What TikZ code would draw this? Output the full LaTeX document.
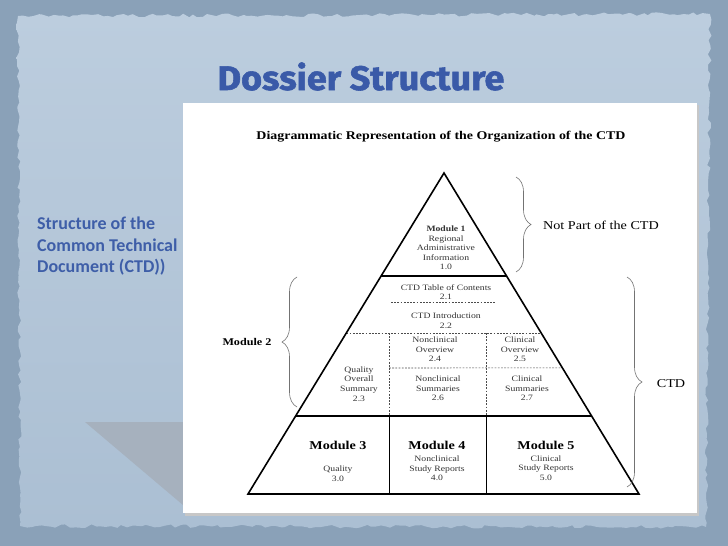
\documentclass[tikz,border=0pt]{standalone}
\usepackage{fontspec}
\setmainfont{Liberation Serif}[FakeStretch=1.18]
\newfontfamily\sidefont{Carlito}
\newfontfamily\titlefont{Fira Sans}[FakeStretch=1.06,FakeBold=1.6]
\usepackage{xcolor}
\usetikzlibrary{calc, positioning}
\usetikzlibrary{decorations.pathreplacing, decorations.pathmorphing}

\definecolor{slateout}{HTML}{8AA1B8}
\definecolor{slatein}{HTML}{BCCDDE}
\definecolor{slatelow}{HTML}{ABBFD3}
\definecolor{slidetext}{HTML}{3E5EA8}
\definecolor{titleblue}{HTML}{3A5AA8}
\definecolor{shadowgray}{HTML}{A6B1BE}

\begin{document}
\begin{tikzpicture}[x=1pt,y=-1pt,
  txt/.style={font=\fontsize{8.2}{9.6}\selectfont,align=center,inner sep=0pt,text=black!80},
  modhead/.style={font=\bfseries\fontsize{12}{14}\selectfont,inner sep=0pt},
  curly/.style={draw=black!55,line width=0.6pt,decorate,decoration={brace,amplitude=15pt}},
  dashsep/.style={line width=0.6pt,dash pattern=on 1.8pt off 1.4pt,draw=black!70}]
\useasboundingbox (0,0) rectangle (728,546);
\pgfmathsetseed{7}
\fill[slateout] (0,0) rectangle (728,546);
\path[top color=slatein,bottom color=slatelow,decorate,
  decoration={random steps,segment length=5pt,amplitude=1.8pt}]
  (18,16) -- (710,14) -- (706,527) -- (20,526) -- cycle;
\fill[shadowgray] (85,422) -- (183,422) -- (183,505) -- cycle;
\fill[black!22] (185,105) rectangle (699,516);
\fill[white] (183,103) rectangle (697,513);

\coordinate (apex) at (444,173);
\coordinate (bl) at (248,494);
\coordinate (br) at (639,494);
\coordinate (m1l) at ($(apex)!0.321!(bl)$);
\coordinate (m1r) at ($(apex)!0.321!(br)$);
\coordinate (m2l) at ($(apex)!0.757!(bl)$);
\coordinate (m2r) at ($(apex)!0.757!(br)$);
\coordinate (dal) at ($(apex)!0.498!(bl)$);
\coordinate (dar) at ($(apex)!0.498!(br)$);
\coordinate (dbr) at ($(apex)!0.607!(br)$);

\draw[dashsep] (391,302) -- (496,302);
\draw[dashsep] (dal) -- (dar);
\draw[dashsep] (389,368) -- (dbr);
\foreach \x in {389,486}{
  \draw[dashsep] (\x,333) -- (\x,416);
  \draw[line width=0.8pt] (\x,416) -- (\x,494);
}
\draw[line width=1.6pt] (m1l) -- (m1r);
\draw[line width=1.6pt] (m2l) -- (m2r);
\draw[line width=1.6pt,line join=miter] (apex) -- (bl) -- (br) -- cycle;

\coordinate (npt) at (516,177);
\coordinate (npb) at (516,272);
\coordinate (m2t) at (297,277);
\coordinate (m2b) at (297,407);
\coordinate (ctdt) at (627,277);
\coordinate (ctdb) at (627,487);
\draw[curly] (npt) -- (npb);
\draw[curly] (m2b) -- (m2t);
\draw[curly] (ctdt) -- (ctdb);

\node[font=\titlefont\bfseries\fontsize{34}{36}\selectfont,text=titleblue,anchor=base] (title) at (361,90) {Dossier Structure};
\node[font=\sidefont\bfseries\fontsize{18}{21.5}\selectfont,text=slidetext,align=left,anchor=north west,inner sep=0pt] (side) at (37,217) {Structure of the\\Common Technical\\Document (CTD))};
\node[font=\bfseries\fontsize{11.8}{14}\selectfont,anchor=base] (heading) at (441,139) {Diagrammatic Representation of the Organization of the CTD};

\node[txt] (mod1) at (446,248) {\textbf{Module 1}\\Regional\\Administrative\\Information\\1.0};
\node[txt] (toc) at (446,292) {CTD Table of Contents\\2.1};
\node[txt] (intro) at (446,321) {CTD Introduction\\2.2};
\node[txt] (ncover) at (435,349.5) {Nonclinical\\Overview\\2.4};
\node[txt] (clover) at (520,349.5) {Clinical\\Overview\\2.5};
\node[txt] (qos) at (359,384) {Quality\\Overall\\Summary\\2.3};
\node[txt] (ncsum) at (438,388.5) {Nonclinical\\Summaries\\2.6};
\node[txt] (clsum) at (527,388.5) {Clinical\\Summaries\\2.7};

\node[modhead] (mod3) at (338,445) {Module 3};
\node[modhead] (mod4) at (437,445) {Module 4};
\node[modhead] (mod5) at (546,445) {Module 5};
\node[txt] (qual) at (338,473.5) {Quality\\3.0};
\node[txt] (ncrep) at (437,468.5) {Nonclinical\\Study Reports\\4.0};
\node[txt] (clrep) at (546,468) {Clinical\\Study Reports\\5.0};

\node[font=\bfseries\fontsize{10.3}{12}\selectfont,inner sep=0pt] (mod2) at (247,342) {Module 2};
\node[font=\fontsize{12}{14}\selectfont,inner sep=0pt] (notpart) at (601,225) {Not Part of the CTD};
\node[font=\fontsize{12}{14}\selectfont,inner sep=0pt] (ctd) at (671,384) {CTD};
\end{tikzpicture}
\end{document}
